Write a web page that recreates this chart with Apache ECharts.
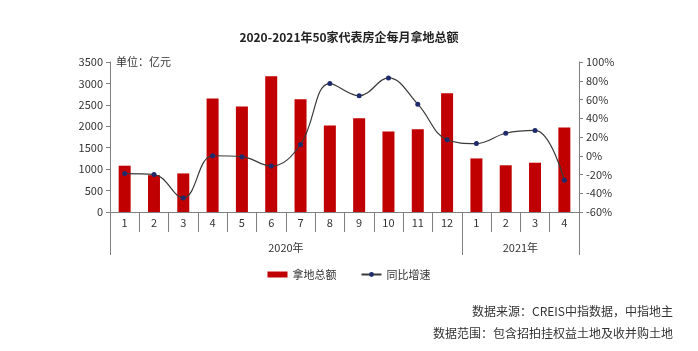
<!DOCTYPE html>
<html>
<head>
<meta charset="utf-8">
<script src="https://cdn.jsdelivr.net/npm/echarts@6/dist/echarts.min.js"></script>
<style>
    html, body { margin: 0; padding: 0; background: #fff; }
    #main { width: 698px; height: 351px; }
</style>
</head>
<body>
<div id="main"></div>
<script>
// month labels of the first axis level
var months = ['1', '2', '3', '4', '5', '6', '7', '8', '9', '10', '11', '12', '1', '2', '3', '4'];
// year groups of the second level
var yearLabels = ['2020年', '2021年'];
var yearSpans = [12, 4];
// land acquisition total (亿元)
var landTotal = [1080, 860, 900, 2650, 2460, 3170, 2630, 2020, 2190, 1880, 1930, 2770, 1250, 1090, 1150, 1970];
// year-on-year growth (%)
var yoyGrowth = [-19, -20, -45, 0, -1, -11, 12, 77, 64, 83, 55, 17, 13, 24, 27, -26];

var amountTicks = { min: 0, max: 3500, interval: 500 };
var growthTicks = { min: -60, max: 100, interval: 20 };

// boundaries and centres of the year groups
var yearEdges = [0];
var yearCentres = [];
yearSpans.forEach(function (n) {
    var start = yearEdges[yearEdges.length - 1];
    yearCentres.push(start + n / 2);
    yearEdges.push(start + n);
});

var textFont = '"Noto Sans CJK SC", "Noto Sans", sans-serif';
var axisGray = '#7f7f7f';

var myChart = echarts.init(document.getElementById('main'));
var option = {
    animation: false,
    textStyle: { fontFamily: textFont },
    title: [{
        text: '2020-2021年50家代表房企每月拿地总额',
        left: 'center',
        top: 26,
        textStyle: { fontSize: 12, fontWeight: 'bold', color: '#222', fontFamily: textFont }
    }, {
        text: '数据来源：CREIS中指数据，中指地主',
        right: 20,
        top: 300,
        textStyle: { fontSize: 12, fontWeight: 'normal', color: '#333', fontFamily: textFont }
    }, {
        text: '数据范围：包含招拍挂权益土地及收并购土地',
        right: 20,
        top: 322,
        textStyle: { fontSize: 12, fontWeight: 'normal', color: '#333', fontFamily: textFont }
    }],
    legend: {
        top: 264,
        left: 'center',
        itemGap: 24,
        itemWidth: 20,
        itemHeight: 6,
        textStyle: { fontSize: 11, color: '#333' },
        data: [
            { name: '拿地总额', icon: 'rect' },
            { name: '同比增速' }
        ]
    },
    grid: { left: 110, right: 119, top: 62, bottom: 139 },
    xAxis: [{
        type: 'category',
        data: months,
        axisLine: { onZero: false, lineStyle: { color: axisGray } },
        axisTick: { show: true, interval: 0, length: 20, lineStyle: { color: axisGray } },
        axisLabel: { interval: 0, margin: 5, fontSize: 11, color: '#333' }
    }, {
        type: 'value',
        position: 'bottom',
        min: 0,
        max: months.length,
        axisLine: { show: false, onZero: false },
        splitLine: { show: false },
        axisTick: { show: true, inside: false, customValues: yearEdges, length: 43, lineStyle: { color: axisGray } },
        axisLabel: {
            customValues: yearCentres,
            margin: 30,
            fontSize: 11,
            color: '#333',
            formatter: function (v) {
                return yearLabels[yearCentres.indexOf(v)];
            }
        }
    }],
    yAxis: [{
        type: 'value',
        min: amountTicks.min,
        max: amountTicks.max,
        interval: amountTicks.interval,
        name: '单位：亿元',
        nameLocation: 'end',
        nameGap: 0,
        nameTextStyle: { align: 'left', verticalAlign: 'middle', padding: [0, 0, 0, 6], fontSize: 11, color: '#333' },
        axisLine: { show: true, lineStyle: { color: axisGray } },
        axisTick: { show: true, length: 4, lineStyle: { color: axisGray } },
        axisLabel: {
            fontSize: 11, color: '#333', margin: 7,
            formatter: function (v) { return String(v); }
        },
        splitLine: { show: false }
    }, {
        type: 'value',
        min: growthTicks.min,
        max: growthTicks.max,
        interval: growthTicks.interval,
        axisLine: { show: true, lineStyle: { color: axisGray } },
        axisTick: { show: true, length: 4, lineStyle: { color: axisGray } },
        axisLabel: {
            fontSize: 11, color: '#333', margin: 7,
            formatter: function (v) { return v + '%'; }
        },
        splitLine: { show: false }
    }],
    series: [{
        name: '拿地总额',
        type: 'bar',
        xAxisIndex: 0,
        yAxisIndex: 0,
        barWidth: 12,
        itemStyle: { color: '#c00000' },
        data: landTotal
    }, {
        name: '同比增速',
        type: 'line',
        xAxisIndex: 0,
        yAxisIndex: 1,
        smooth: 0.4,
        symbol: 'circle',
        symbolSize: 5,
        lineStyle: { color: '#3a3a3a', width: 1.2 },
        itemStyle: { color: '#1f2a6b' },
        data: yoyGrowth
    }]
};
myChart.setOption(option);
</script>
</body>
</html>
